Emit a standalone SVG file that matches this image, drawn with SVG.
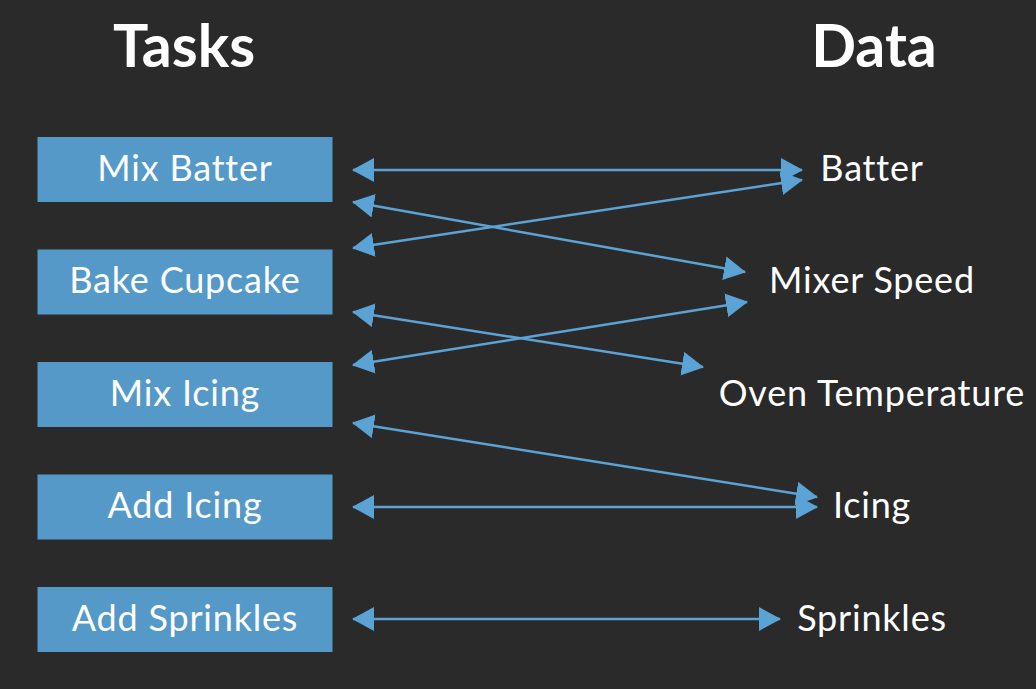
<svg xmlns="http://www.w3.org/2000/svg" width="1036" height="689" viewBox="0 0 1036 689">
<style>
.bg{fill:#2a2a2a}
.box{fill:#5599c8}
.lbl{font-family:Lato,"Open Sans","Liberation Sans",sans-serif;font-size:36px;letter-spacing:0.8px;fill:#ffffff;text-anchor:middle}
.title{font-family:Lato,"Open Sans","Liberation Sans",sans-serif;font-size:59px;font-weight:bold;fill:#ffffff;text-anchor:middle}
.conn line{stroke:#5aa3d4;stroke-width:2.5;marker-start:url(#ah);marker-end:url(#ah)}
</style>
<defs>
<marker id="ah" markerUnits="userSpaceOnUse" markerWidth="22" markerHeight="24" refX="21" refY="12" orient="auto-start-reverse" viewBox="0 0 22 24">
<path d="M0,0 L22,12 L0,24 z" fill="#5aa3d4"/>
</marker>
</defs>
<rect class="bg" x="0" y="0" width="1036" height="689"/>
<g id="title-tasks"><text class="title" x="184" y="67">Tasks</text></g>
<g id="title-data"><text class="title" x="874" y="67">Data</text></g>
<g id="task-mix-batter"><rect class="box" x="37.5" y="137" width="295" height="65"/><text class="lbl" x="185" y="180.5">Mix Batter</text></g>
<g id="task-bake-cupcake"><rect class="box" x="37.5" y="249.5" width="295" height="65"/><text class="lbl" x="185" y="293">Bake Cupcake</text></g>
<g id="task-mix-icing"><rect class="box" x="37.5" y="362" width="295" height="65"/><text class="lbl" x="185" y="405.5">Mix Icing</text></g>
<g id="task-add-icing"><rect class="box" x="37.5" y="474.5" width="295" height="65"/><text class="lbl" x="185" y="518">Add Icing</text></g>
<g id="task-add-sprinkles"><rect class="box" x="37.5" y="587" width="295" height="65"/><text class="lbl" x="185" y="630.5">Add Sprinkles</text></g>
<g id="data-batter"><text class="lbl" x="872" y="180.5">Batter</text></g>
<g id="data-mixer-speed"><text class="lbl" x="872" y="293">Mixer Speed</text></g>
<g id="data-oven-temperature"><text class="lbl" x="872" y="405.5">Oven Temperature</text></g>
<g id="data-icing"><text class="lbl" x="872" y="518">Icing</text></g>
<g id="data-sprinkles"><text class="lbl" x="872" y="630.5">Sprinkles</text></g>
<g id="connectors" class="conn">
<line x1="353" y1="170" x2="802" y2="170"/>
<line x1="353" y1="202" x2="745" y2="272"/>
<line x1="353" y1="248" x2="802" y2="180"/>
<line x1="353" y1="312" x2="703" y2="367"/>
<line x1="353" y1="365" x2="747" y2="302"/>
<line x1="353" y1="423" x2="817" y2="497"/>
<line x1="353" y1="507" x2="817" y2="507"/>
<line x1="353" y1="619" x2="780" y2="619"/>
</g>
</svg>
